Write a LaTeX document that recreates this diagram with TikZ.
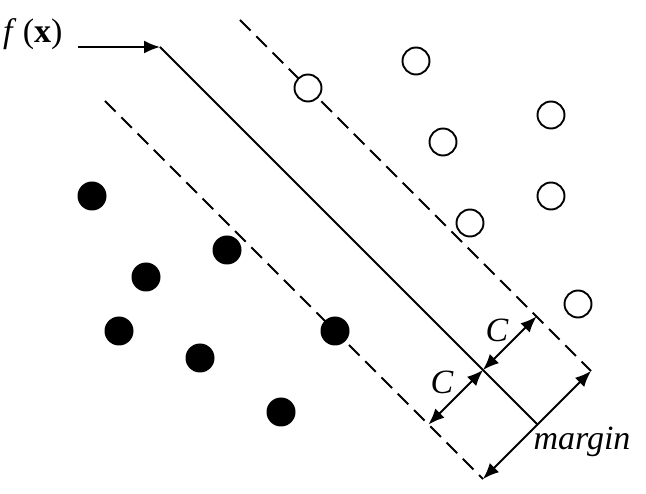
\documentclass[tikz,border=0pt]{standalone}
\usepackage{fontspec}
\setmainfont{Liberation Serif}
\usetikzlibrary{arrows.meta}
\begin{document}
\begin{tikzpicture}[x=1pt,y=-1pt,
  ln/.style={line width=1.9pt},
  dsh/.style={line width=1.9pt, dash pattern=on 15pt off 8pt},
  dbl/.style={line width=1.9pt, {Latex[length=16pt,width=13pt]}-{Latex[length=16pt,width=13pt]}},
  sgl/.style={line width=1.9pt, -{Latex[length=16pt,width=13pt]}},
  opendot/.style={circle, draw, line width=1.9pt, minimum size=27pt, inner sep=0pt, fill=white},
  filldot/.style={circle, fill=black, minimum size=29pt, inner sep=0pt},
  lbl/.style={font=\fontsize{34}{36}\selectfont\itshape, inner sep=0pt}
]
\useasboundingbox (0,0) rectangle (646,494);
% key points
\coordinate (fx0) at (78,47);
\coordinate (s0) at (160,47);
\coordinate (s1) at (537.5,424.5);
\coordinate (u0) at (240,20);
\coordinate (u1) at (591,371);
\coordinate (l0) at (105,101);
\coordinate (l1) at (483,479);
\coordinate (p) at (483,370);
\coordinate (cu) at (536.5,316.5);
\coordinate (cl) at (428.5,424.5);
% lines
\draw[dsh] (u0) -- (u1);
\draw[dsh] (l0) -- (l1);
\draw[ln] (s0) -- (s1);
% points
\foreach \n/\x/\y in {o1/308/88, o2/416/61, o3/443/142, o4/551/115, o5/551/196, o6/470/223, o7/578/304}
  \node[opendot] (\n) at (\x,\y) {};
\foreach \n/\x/\y in {b1/92/196, b2/227/250, b3/146/277, b4/119/331, b5/335/331, b6/200/358, b7/281/412}
  \node[filldot] (\n) at (\x,\y) {};
% arrows
\draw[sgl] (fx0) -- (s0);
\draw[dbl] (cl) -- (p);
\draw[dbl] (p) -- (cu);
\draw[dbl] (l1) -- (u1);
% labels
\node[lbl, anchor=base west] (fx) at (3,43) {f\upshape\hspace{0.3em}(\textbf{x})};
\node[lbl] (c1) at (497,330) {C};
\node[lbl] (c2) at (442,382) {C};
\node[lbl, anchor=base] (mg) at (582,450) {margin};
\end{tikzpicture}
\end{document}
